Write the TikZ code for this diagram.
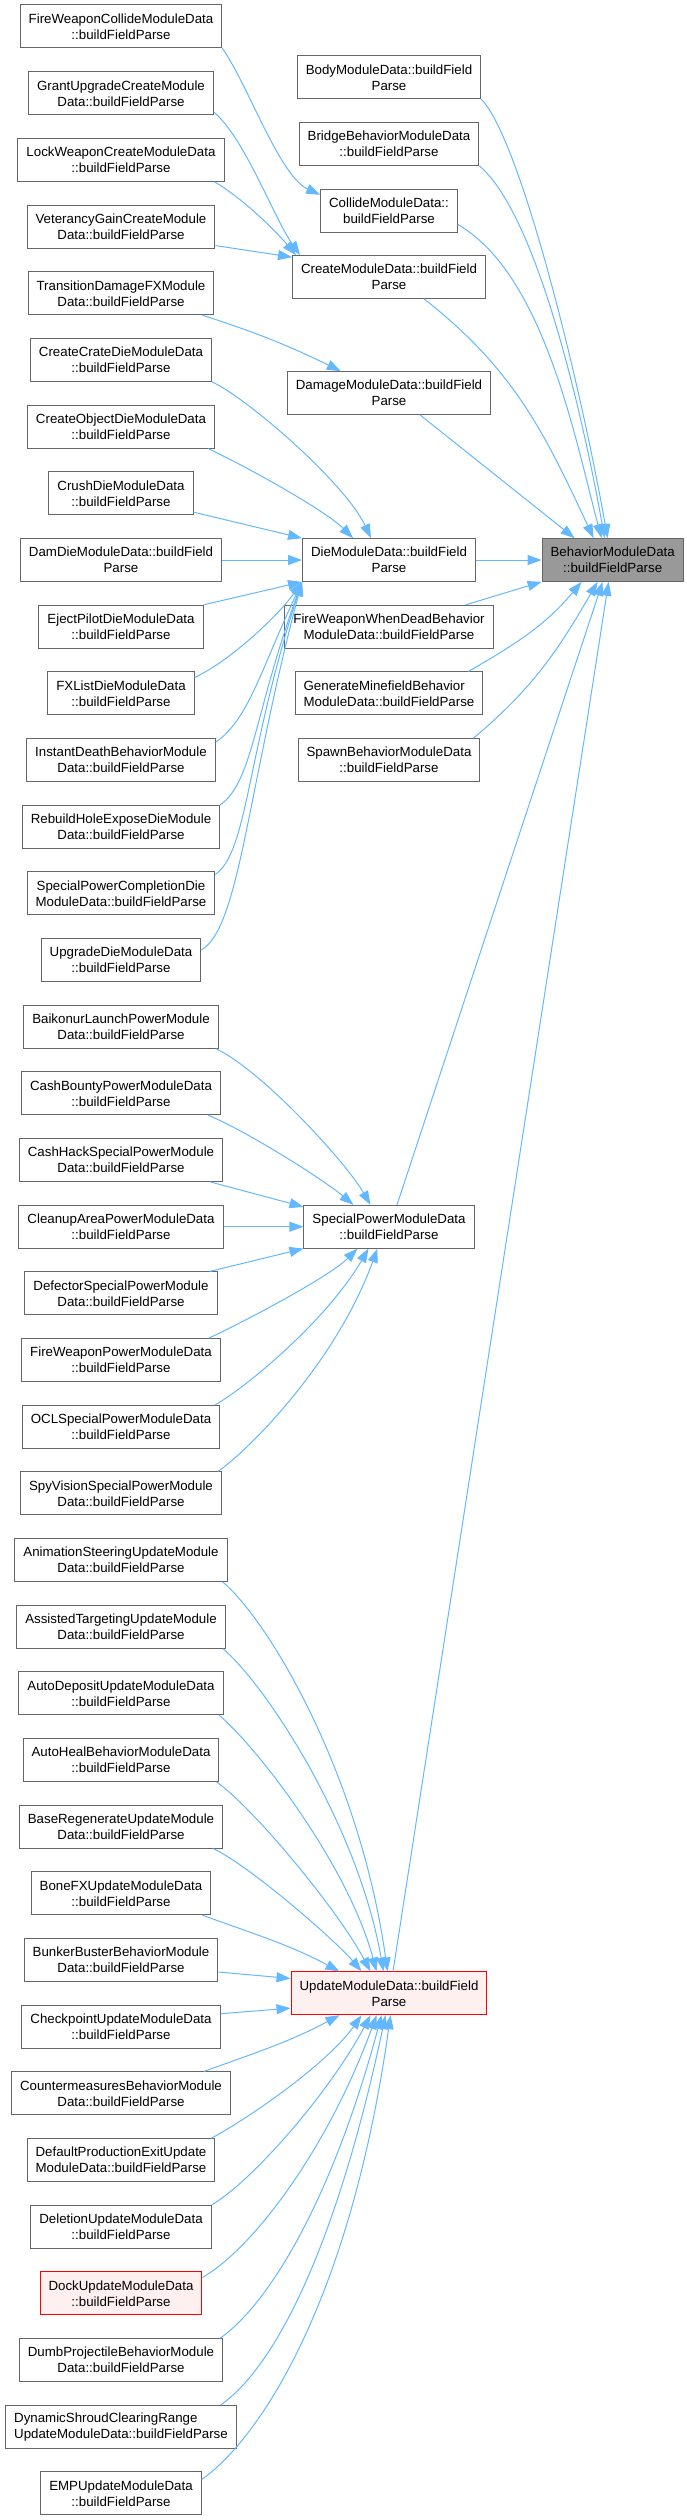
\documentclass[tikz,border=0pt]{standalone}
\usepackage{fontspec}
\setmainfont{Liberation Sans}
\usepackage{xcolor}
\usepackage{tikz}
\usetikzlibrary{arrows.meta,calc}
\definecolor{edgeblue}{HTML}{63B8FF}
\definecolor{boxgray}{HTML}{666666}
\definecolor{rootfill}{HTML}{999999}
\definecolor{hotfill}{HTML}{FFF0F0}

\begin{document}
\begin{tikzpicture}[x=1pt, y=1pt, every node/.style={font=\fontsize{13.3}{16}\selectfont}, box/.style={draw=boxgray, line width=1pt, align=center, minimum height=42.7pt, inner xsep=8.5pt, inner ysep=2pt, fill=white}, root/.style={box, fill=rootfill}, hot/.style={box, draw=red, fill=hotfill}, arr/.style={-{Triangle[length=14pt,width=10pt]}, color=edgeblue, line width=1pt}]
\useasboundingbox (0,0) rectangle (686,-2520);
\node[box] (fwcollide) at (121,-26.3) {FireWeaponCollideModuleData\\::buildFieldParse};
\node[box] (grantup) at (121,-93.3) {GrantUpgradeCreateModule\\Data::buildFieldParse};
\node[box] (lockweap) at (121,-160) {LockWeaponCreateModuleData\\::buildFieldParse};
\node[box] (vetgain) at (121,-226.7) {VeterancyGainCreateModule\\Data::buildFieldParse};
\node[box] (transdmg) at (121,-293.3) {TransitionDamageFXModule\\Data::buildFieldParse};
\node[box] (cratedie) at (121,-360) {CreateCrateDieModuleData\\::buildFieldParse};
\node[box] (objdie) at (121,-426.7) {CreateObjectDieModuleData\\::buildFieldParse};
\node[box] (crushdie) at (121,-493.3) {CrushDieModuleData\\::buildFieldParse};
\node[box] (damdie) at (121,-560) {DamDieModuleData::buildField\\Parse};
\node[box] (ejectdie) at (121,-626.7) {EjectPilotDieModuleData\\::buildFieldParse};
\node[box] (fxdie) at (121,-693.3) {FXListDieModuleData\\::buildFieldParse};
\node[box] (instdie) at (121,-760) {InstantDeathBehaviorModule\\Data::buildFieldParse};
\node[box] (rebuilddie) at (121,-826.7) {RebuildHoleExposeDieModule\\Data::buildFieldParse};
\node[box] (spcdie) at (121,-893.3) {SpecialPowerCompletionDie\\ModuleData::buildFieldParse};
\node[box] (upgdie) at (121,-960) {UpgradeDieModuleData\\::buildFieldParse};
\node[box] (baikonur) at (121,-1026.7) {BaikonurLaunchPowerModule\\Data::buildFieldParse};
\node[box] (bounty) at (121,-1093.3) {CashBountyPowerModuleData\\::buildFieldParse};
\node[box] (cashhack) at (121,-1160) {CashHackSpecialPowerModule\\Data::buildFieldParse};
\node[box] (cleanup) at (121,-1226.7) {CleanupAreaPowerModuleData\\::buildFieldParse};
\node[box] (defector) at (121,-1293.3) {DefectorSpecialPowerModule\\Data::buildFieldParse};
\node[box] (fwpower) at (121,-1360) {FireWeaponPowerModuleData\\::buildFieldParse};
\node[box] (oclpower) at (121,-1426.7) {OCLSpecialPowerModuleData\\::buildFieldParse};
\node[box] (spypower) at (121,-1493.3) {SpyVisionSpecialPowerModule\\Data::buildFieldParse};
\node[box] (animsteer) at (121,-1560) {AnimationSteeringUpdateModule\\Data::buildFieldParse};
\node[box] (assisttgt) at (121,-1626.7) {AssistedTargetingUpdateModule\\Data::buildFieldParse};
\node[box] (autodep) at (121,-1693.3) {AutoDepositUpdateModuleData\\::buildFieldParse};
\node[box] (autoheal) at (121,-1760) {AutoHealBehaviorModuleData\\::buildFieldParse};
\node[box] (baseregen) at (121,-1826.7) {BaseRegenerateUpdateModule\\Data::buildFieldParse};
\node[box] (bonefx) at (121,-1893.3) {BoneFXUpdateModuleData\\::buildFieldParse};
\node[box] (bunker) at (121,-1960) {BunkerBusterBehaviorModule\\Data::buildFieldParse};
\node[box] (checkpt) at (121,-2026.7) {CheckpointUpdateModuleData\\::buildFieldParse};
\node[box] (counter) at (121,-2093.3) {CountermeasuresBehaviorModule\\Data::buildFieldParse};
\node[box] (defprod) at (121,-2160) {DefaultProductionExitUpdate\\ModuleData::buildFieldParse};
\node[box] (deletion) at (121,-2226.7) {DeletionUpdateModuleData\\::buildFieldParse};
\node[hot] (dock) at (121,-2293.3) {DockUpdateModuleData\\::buildFieldParse};
\node[box] (dumbproj) at (121,-2360) {DumbProjectileBehaviorModule\\Data::buildFieldParse};
\node[box, align=left] (shroud) at (121,-2426.7) {DynamicShroudClearingRange\\UpdateModuleData::buildFieldParse};
\node[box] (emp) at (121,-2493.3) {EMPUpdateModuleData\\::buildFieldParse};
\node[box] (body) at (389,-77.3) {BodyModuleData::buildField\\Parse};
\node[box] (bridge) at (389,-144) {BridgeBehaviorModuleData\\::buildFieldParse};
\node[box] (collide) at (389,-210.7) {CollideModuleData::\\buildFieldParse};
\node[box] (create) at (389,-277) {CreateModuleData::buildField\\Parse};
\node[box] (damage) at (389,-393) {DamageModuleData::buildField\\Parse};
\node[box] (die) at (389,-560) {DieModuleData::buildField\\Parse};
\node[box] (fwdead) at (die |- ejectdie) {FireWeaponWhenDeadBehavior\\ModuleData::buildFieldParse};
\node[box, align=left] (minefield) at (die |- fxdie) {GenerateMinefieldBehavior\\ModuleData::buildFieldParse};
\node[box] (spawn) at (die |- instdie) {SpawnBehaviorModuleData\\::buildFieldParse};
\node[box] (specpower) at (die |- cleanup) {SpecialPowerModuleData\\::buildFieldParse};
\node[hot] (update) at (389,-1993.3) {UpdateModuleData::buildField\\Parse};
\node[root] (behavior) at (612.7,-560) {BehaviorModuleData\\::buildFieldParse};
\draw[arr] (fwcollide.south east) to[out=-55,in=155,out distance=45pt,in distance=45pt] ([yshift=-6pt]collide.north west);
\draw[arr] ([yshift=3pt]grantup.south east) to[out=-40,in=125,out distance=40pt,in distance=45pt] ([xshift=8pt]create.north west);
\draw[arr] ([xshift=-10pt]lockweap.south east) to[out=-30,in=130,out distance=30pt,in distance=35pt] ([xshift=4pt]create.north west);
\draw[arr] ([yshift=3pt]vetgain.south east) -- ([yshift=-2pt]create.north west); \draw[arr] ([xshift=-12pt]transdmg.south east) to[out=-18,in=154] ([xshift=54pt]damage.north west);
\draw[arr] (cratedie.south east) to[out=-25,in=115,out distance=40pt,in distance=60pt] ([xshift=69pt]die.north west);
\draw[arr] ([xshift=-7pt]objdie.south east) to[out=-25,in=135,out distance=40pt,in distance=40pt] ([xshift=51pt]die.north west);
\draw[arr] ([yshift=3pt]crushdie.south east) -- (die.north west); \draw[arr] (damdie) -- (die); \draw[arr] (ejectdie.north east) -- (die.south west);
\draw[arr] ([yshift=-6pt]fxdie.north east) to[out=25,in=235,out distance=40pt,in distance=40pt] (die.south west);
\draw[arr] ([yshift=-4pt]instdie.north east) to[out=35,in=245,out distance=40pt,in distance=100pt] (die.south west);
\draw[arr] (rebuilddie.north east) to[out=35,in=250,out distance=40pt,in distance=140pt] (die.south west);
\draw[arr] ([yshift=-3pt]spcdie.north east) to[out=35,in=252,out distance=40pt,in distance=180pt] (die.south west);
\draw[arr] ([yshift=10pt]upgdie.east) to[out=30,in=255,out distance=45pt,in distance=210pt] (die.south west);
\draw[arr] (body.south east) to[out=-45,in=100,out distance=55pt,in distance=160pt] ([xshift=66pt]behavior.north west);
\draw[arr] (bridge.south east) to[out=-40,in=100,out distance=80pt,in distance=100pt] ([xshift=63pt]behavior.north west);
\draw[arr] ([yshift=8pt]collide.south east) to[out=-30,in=105,out distance=100pt,in distance=100pt] ([xshift=60pt]behavior.north west);
\draw[arr] ([xshift=35pt]create.south) to[out=-38,in=115] ([xshift=52pt]behavior.north west);
\draw[arr] ([xshift=31pt]damage.south) -- ([xshift=33pt]behavior.north west); \draw[arr] (die) -- (behavior);
\draw[arr] ([xshift=-28pt]fwdead.north east) -- (behavior.south west);
\draw[arr] ([xshift=-15pt]minefield.north east) to[out=30,in=230] ([xshift=40pt]behavior.south west);
\draw[arr] ([xshift=-7pt]spawn.north east) to[out=40,in=240] ([xshift=56pt]behavior.south west);
\draw[arr] ([xshift=8pt]specpower.north) -- ([xshift=61pt]behavior.south west); \draw[arr] ([xshift=4pt]update.north) -- ([xshift=67pt]behavior.south west);
\draw[arr] ([xshift=-3pt]baikonur.south east) to[out=-25,in=120,out distance=50pt,in distance=50pt] ([xshift=67pt]specpower.north west);
\draw[arr] ([xshift=-13pt]bounty.south east) to[out=-22,in=140,out distance=40pt,in distance=40pt] ([xshift=50pt]specpower.north west);
\draw[arr] ([xshift=-13pt]cashhack.south east) -- ([yshift=-2pt]specpower.north west); \draw[arr] (cleanup) -- (specpower);
\draw[arr] ([xshift=-8pt]defector.north east) -- (specpower.south west);
\draw[arr] ([xshift=-12pt]fwpower.north east) to[out=25,in=225,out distance=40pt,in distance=40pt] ([xshift=54pt]specpower.south west);
\draw[arr] ([xshift=-5pt]oclpower.north east) to[out=30,in=240,out distance=40pt,in distance=80pt] ([xshift=65pt]specpower.south west);
\draw[arr] ([xshift=-4pt]spypower.north east) to[out=35,in=250,out distance=40pt,in distance=120pt] ([xshift=74pt]specpower.south west);
\draw[arr] ([xshift=-5pt]animsteer.south east) to[out=-40,in=98,out distance=60pt,in distance=200pt] ([xshift=97pt]update.north west);
\draw[arr] ([xshift=-3pt]assisttgt.south east) to[out=-40,in=100,out distance=55pt,in distance=150pt] ([xshift=93pt]update.north west);
\draw[arr] ([xshift=-4.5pt]autodep.south east) to[out=-40,in=105,out distance=50pt,in distance=110pt] ([xshift=86pt]update.north west);
\draw[arr] ([xshift=-3pt]autoheal.south east) to[out=-35,in=118,out distance=45pt,in distance=70pt] ([xshift=80pt]update.north west);
\draw[arr] ([xshift=-10pt]baseregen.south east) to[out=-25,in=130,out distance=40pt,in distance=40pt] ([xshift=71pt]update.north west);
\draw[arr] ([xshift=-9pt]bonefx.south east) to[out=-20,in=152] ([xshift=49pt]update.north west);
\draw[arr] ([yshift=-12pt]bunker.east) -- ([yshift=-7pt]update.north west); \draw[arr] ([yshift=13pt]checkpt.east) -- ([yshift=7pt]update.south west);
\draw[arr] ([xshift=-27pt]counter.north east) to[out=20,in=208] ([xshift=49pt]update.south west);
\draw[arr] ([xshift=-4pt]defprod.north east) to[out=28,in=235,out distance=40pt,in distance=60pt] ([xshift=71pt]update.south west);
\draw[arr] (deletion.north east) to[out=30,in=242,out distance=45pt,in distance=90pt] ([xshift=80pt]update.south west);
\draw[arr] ([yshift=-6pt]dock.north east) to[out=30,in=250,out distance=60pt,in distance=140pt] ([xshift=86pt]update.south west);
\draw[arr] ([xshift=-3pt]dumbproj.north east) to[out=35,in=255,out distance=60pt,in distance=190pt] ([xshift=91pt]update.south west);
\draw[arr] ([xshift=-16pt]shroud.north east) to[out=35,in=258,out distance=65pt,in distance=240pt] ([xshift=95pt]update.south west);
\draw[arr] ([yshift=-8pt]emp.north east) to[out=35,in=262,out distance=70pt,in distance=290pt] ([xshift=100pt]update.south west);
\end{tikzpicture}
\end{document}
